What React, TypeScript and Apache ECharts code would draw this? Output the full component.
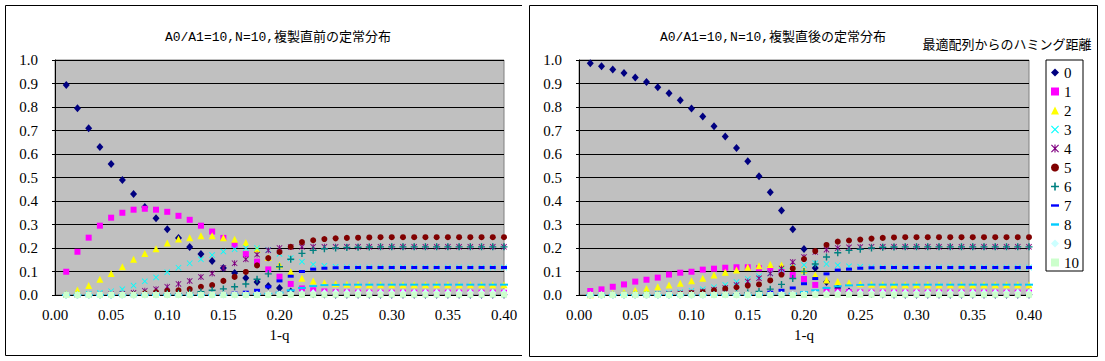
import React, { useEffect, useRef } from "react";
import * as echarts from "echarts";

// ---------- data ----------
const xValues = [
  0.01, 0.02, 0.03, 0.04, 0.05, 0.06, 0.07, 0.08, 0.09, 0.1,
  0.11, 0.12, 0.13, 0.14, 0.15, 0.16, 0.17, 0.18, 0.19, 0.2,
  0.21, 0.22, 0.23, 0.24, 0.25, 0.26, 0.27, 0.28, 0.29, 0.3,
  0.31, 0.32, 0.33, 0.34, 0.35, 0.36, 0.37, 0.38, 0.39, 0.4,
];

const seriesNames = ["0", "1", "2", "3", "4", "5", "6", "7", "8", "9", "10"];

const xTickFormat = (v: number) => v.toFixed(2);
const yTickFormat = (v: number) => v.toFixed(1);

const titleBefore = "A0/A1=10,N=10,複製直前の定常分布";
const titleAfter = "A0/A1=10,N=10,複製直後の定常分布";
const legendTitle = "最適配列からのハミング距離";
const xAxisName = "1-q";

// before replication (left chart)
const beforeD0 = [
  0.894, 0.795, 0.71, 0.63, 0.557, 0.489, 0.43, 0.375, 0.327, 0.28,
  0.243, 0.204, 0.174, 0.145, 0.115, 0.094, 0.072, 0.055, 0.038, 0.03,
  0.015, 0.006, 0.003, 0.002, 0.001, 0.001, 0.001, 0.001, 0.001, 0.001,
  0.001, 0.001, 0.001, 0.001, 0.001, 0.001, 0.001, 0.001, 0.001, 0.001,
];
const beforeD1 = [
  0.099, 0.184, 0.244, 0.295, 0.329, 0.35, 0.363, 0.367, 0.363, 0.354,
  0.337, 0.32, 0.295, 0.27, 0.243, 0.213, 0.174, 0.142, 0.109, 0.078,
  0.047, 0.028, 0.02, 0.015, 0.012, 0.011, 0.01, 0.0098, 0.0098, 0.0098,
  0.0098, 0.0098, 0.0098, 0.0098, 0.0098, 0.0098, 0.0098, 0.0098, 0.0098, 0.0098,
];
const beforeD2 = [
  0.005, 0.021, 0.04, 0.067, 0.091, 0.12, 0.152, 0.177, 0.197, 0.221,
  0.238, 0.244, 0.252, 0.252, 0.244, 0.237, 0.223, 0.196, 0.16, 0.128,
  0.099, 0.071, 0.06, 0.052, 0.048, 0.046, 0.045, 0.044, 0.044, 0.044,
  0.044, 0.044, 0.044, 0.044, 0.044, 0.044, 0.044, 0.044, 0.044, 0.044,
];
const beforeD3 = [
  0, 0.002, 0.005, 0.01, 0.016, 0.025, 0.04, 0.058, 0.075, 0.097,
  0.116, 0.135, 0.152, 0.17, 0.185, 0.195, 0.2, 0.2, 0.192, 0.175,
  0.157, 0.142, 0.13, 0.124, 0.12, 0.118, 0.117, 0.117, 0.117, 0.117,
  0.117, 0.117, 0.117, 0.117, 0.117, 0.117, 0.117, 0.117, 0.117, 0.117,
];
const beforeD4 = [
  0, 0, 0.001, 0.002, 0.003, 0.005, 0.01, 0.018, 0.025, 0.035,
  0.047, 0.06, 0.077, 0.092, 0.115, 0.135, 0.152, 0.172, 0.19, 0.2,
  0.204, 0.205, 0.205, 0.205, 0.205, 0.205, 0.205, 0.205, 0.205, 0.205,
  0.205, 0.205, 0.205, 0.205, 0.205, 0.205, 0.205, 0.205, 0.205, 0.205,
];
const beforeD5 = [
  0, 0, 0, 0, 0.001, 0.002, 0.004, 0.007, 0.012, 0.018,
  0.02, 0.025, 0.035, 0.042, 0.06, 0.077, 0.098, 0.126, 0.157, 0.183,
  0.205, 0.225, 0.233, 0.238, 0.241, 0.243, 0.244, 0.245, 0.246, 0.246,
  0.246, 0.246, 0.246, 0.246, 0.246, 0.246, 0.246, 0.246, 0.246, 0.246,
];
const beforeD6 = [
  0, 0, 0, 0, 0, 0.001, 0.001, 0.002, 0.003, 0.005,
  0.007, 0.01, 0.014, 0.02, 0.026, 0.035, 0.047, 0.067, 0.09, 0.12,
  0.152, 0.177, 0.19, 0.197, 0.2, 0.202, 0.203, 0.204, 0.205, 0.205,
  0.205, 0.205, 0.205, 0.205, 0.205, 0.205, 0.205, 0.205, 0.205, 0.205,
];
const beforeD7 = [
  0, 0, 0, 0, 0, 0, 0, 0, 0, 0,
  0.001, 0.001, 0.002, 0.003, 0.005, 0.008, 0.012, 0.02, 0.035, 0.06,
  0.08, 0.1, 0.11, 0.114, 0.116, 0.117, 0.117, 0.117, 0.117, 0.117,
  0.117, 0.117, 0.117, 0.117, 0.117, 0.117, 0.117, 0.117, 0.117, 0.117,
];
const beforeD8 = [
  0, 0, 0, 0, 0, 0, 0, 0, 0, 0,
  0, 0, 0, 0, 0, 0.001, 0.002, 0.003, 0.005, 0.01,
  0.02, 0.03, 0.038, 0.042, 0.043, 0.044, 0.044, 0.044, 0.044, 0.044,
  0.044, 0.044, 0.044, 0.044, 0.044, 0.044, 0.044, 0.044, 0.044, 0.044,
];
const beforeD9 = [
  0, 0, 0, 0, 0, 0, 0, 0, 0, 0,
  0, 0, 0, 0, 0, 0, 0, 0.001, 0.001, 0.002,
  0.004, 0.006, 0.008, 0.009, 0.0098, 0.0098, 0.0098, 0.0098, 0.0098, 0.0098,
  0.0098, 0.0098, 0.0098, 0.0098, 0.0098, 0.0098, 0.0098, 0.0098, 0.0098, 0.0098,
];
const beforeD10 = [
  0, 0, 0, 0, 0, 0, 0, 0, 0, 0,
  0, 0, 0, 0, 0, 0, 0, 0, 0, 0,
  0.001, 0.001, 0.001, 0.001, 0.001, 0.001, 0.001, 0.001, 0.001, 0.001,
  0.001, 0.001, 0.001, 0.001, 0.001, 0.001, 0.001, 0.001, 0.001, 0.001,
];

// after replication (right chart)
const afterD0 = [
  0.986, 0.973, 0.96, 0.945, 0.926, 0.906, 0.884, 0.858, 0.829, 0.794,
  0.76, 0.718, 0.674, 0.626, 0.569, 0.505, 0.437, 0.36, 0.28, 0.196,
  0.115, 0.055, 0.03, 0.015, 0.008, 0.004, 0.002, 0.001, 0.001, 0.001,
  0.001, 0.001, 0.001, 0.001, 0.001, 0.001, 0.001, 0.001, 0.001, 0.001,
];
const afterD1 = [
  0.017, 0.024, 0.035, 0.045, 0.057, 0.065, 0.074, 0.087, 0.095, 0.099,
  0.108, 0.112, 0.116, 0.118, 0.118, 0.114, 0.11, 0.1, 0.085, 0.068,
  0.043, 0.022, 0.015, 0.012, 0.011, 0.01, 0.0098, 0.0098, 0.0098, 0.0098,
  0.0098, 0.0098, 0.0098, 0.0098, 0.0098, 0.0098, 0.0098, 0.0098, 0.0098, 0.0098,
];
const afterD2 = [
  0.001, 0.003, 0.007, 0.012, 0.02, 0.028, 0.035, 0.043, 0.05, 0.061,
  0.071, 0.085, 0.097, 0.106, 0.118, 0.125, 0.13, 0.128, 0.12, 0.106,
  0.085, 0.064, 0.057, 0.052, 0.048, 0.046, 0.045, 0.044, 0.044, 0.044,
  0.044, 0.044, 0.044, 0.044, 0.044, 0.044, 0.044, 0.044, 0.044, 0.044,
];
const afterD3 = [
  0, 0, 0.001, 0.001, 0.002, 0.003, 0.005, 0.008, 0.012, 0.018,
  0.025, 0.033, 0.043, 0.055, 0.068, 0.08, 0.093, 0.106, 0.118, 0.128,
  0.135, 0.132, 0.127, 0.122, 0.12, 0.118, 0.117, 0.117, 0.117, 0.117,
  0.117, 0.117, 0.117, 0.117, 0.117, 0.117, 0.117, 0.117, 0.117, 0.117,
];
const afterD4 = [
  0, 0, 0, 0, 0.001, 0.001, 0.002, 0.004, 0.006, 0.01,
  0.015, 0.022, 0.03, 0.043, 0.057, 0.071, 0.092, 0.113, 0.14, 0.162,
  0.183, 0.193, 0.2, 0.203, 0.204, 0.205, 0.205, 0.205, 0.205, 0.205,
  0.205, 0.205, 0.205, 0.205, 0.205, 0.205, 0.205, 0.205, 0.205, 0.205,
];
const afterD5 = [
  0, 0, 0, 0, 0, 0.001, 0.002, 0.003, 0.005, 0.008,
  0.012, 0.02, 0.027, 0.033, 0.04, 0.045, 0.062, 0.087, 0.113, 0.153,
  0.187, 0.213, 0.227, 0.232, 0.236, 0.24, 0.243, 0.245, 0.246, 0.246,
  0.246, 0.246, 0.246, 0.246, 0.246, 0.246, 0.246, 0.246, 0.246, 0.246,
];
const afterD6 = [
  0, 0, 0, 0, 0, 0, 0, 0, 0, 0.001,
  0.001, 0.002, 0.003, 0.006, 0.01, 0.015, 0.025, 0.045, 0.07, 0.1,
  0.132, 0.162, 0.18, 0.19, 0.195, 0.2, 0.203, 0.204, 0.205, 0.205,
  0.205, 0.205, 0.205, 0.205, 0.205, 0.205, 0.205, 0.205, 0.205, 0.205,
];
const afterD7 = [
  0, 0, 0, 0, 0, 0, 0, 0, 0, 0,
  0, 0, 0.001, 0.002, 0.003, 0.006, 0.012, 0.02, 0.03, 0.048,
  0.07, 0.09, 0.106, 0.11, 0.114, 0.116, 0.117, 0.117, 0.117, 0.117,
  0.117, 0.117, 0.117, 0.117, 0.117, 0.117, 0.117, 0.117, 0.117, 0.117,
];
const afterD8 = [
  0, 0, 0, 0, 0, 0, 0, 0, 0, 0,
  0, 0, 0, 0, 0, 0.001, 0.002, 0.003, 0.006, 0.012,
  0.02, 0.03, 0.037, 0.041, 0.043, 0.044, 0.044, 0.044, 0.044, 0.044,
  0.044, 0.044, 0.044, 0.044, 0.044, 0.044, 0.044, 0.044, 0.044, 0.044,
];
const afterD9 = [
  0, 0, 0, 0, 0, 0, 0, 0, 0, 0,
  0, 0, 0, 0, 0, 0, 0, 0.001, 0.001, 0.002,
  0.004, 0.006, 0.008, 0.009, 0.0098, 0.0098, 0.0098, 0.0098, 0.0098, 0.0098,
  0.0098, 0.0098, 0.0098, 0.0098, 0.0098, 0.0098, 0.0098, 0.0098, 0.0098, 0.0098,
];
const afterD10 = [
  0, 0, 0, 0, 0, 0, 0, 0, 0, 0,
  0, 0, 0, 0, 0, 0, 0, 0, 0, 0,
  0.001, 0.001, 0.001, 0.001, 0.001, 0.001, 0.001, 0.001, 0.001, 0.001,
  0.001, 0.001, 0.001, 0.001, 0.001, 0.001, 0.001, 0.001, 0.001, 0.001,
];

const beforeData = [
  beforeD0, beforeD1, beforeD2, beforeD3, beforeD4, beforeD5,
  beforeD6, beforeD7, beforeD8, beforeD9, beforeD10,
];
const afterData = [
  afterD0, afterD1, afterD2, afterD3, afterD4, afterD5,
  afterD6, afterD7, afterD8, afterD9, afterD10,
];

// ---------- styles ----------
const SERIF = "'Liberation Serif', 'Noto Sans CJK JP', serif";
const TITLE_FONT = "'Liberation Mono', 'Noto Sans CJK JP', monospace";

const colors = [
  "#000080", "#FF00FF", "#FFFF00", "#00FFFF", "#800080", "#800000",
  "#008080", "#0000FF", "#00CCFF", "#CCFFFF", "#CCFFCC",
];

const SYM_X = "path://M0,1L1,0L5,4L9,0L10,1L6,5L10,9L9,10L5,6L1,10L0,9L4,5Z";
const SYM_STAR =
  "path://M0,1L1,0L5,4L9,0L10,1L6,5L10,9L9,10L5,6L1,10L0,9L4,5ZM4.3,0H5.7V10H4.3Z";
const SYM_PLUS = "path://M4,0H6V4H10V6H6V10H4V6H0V4H4Z";
const SYM_DASH = "path://M0,0H10V3H0Z";

const symbols = [
  "diamond", "rect", "triangle", SYM_X, SYM_STAR, "circle",
  SYM_PLUS, SYM_DASH, SYM_DASH, "diamond", "rect",
];
const symbolSizes: any[] = [
  [7, 8], 6, 7, 6, 6, 6, 7, [6, 3], [8, 2], [7, 8], 6,
];

function buildSeries(data: number[][], g: number) {
  return data.map((arr, i) => ({
    type: "scatter",
    name: seriesNames[i],
    xAxisIndex: g,
    yAxisIndex: g,
    data: xValues.map((x, k) => [x, arr[k]]),
    symbol: symbols[i],
    symbolSize: symbolSizes[i],
    itemStyle: { color: colors[i], opacity: 1 },
    emphasis: { disabled: true },
    clip: false,
  }));
}

const grids = [
  { left: 55, top: 60, width: 449, height: 235 },
  { left: 579, top: 60, width: 450, height: 235 },
];

function makeXAxis(g: number) {
  return {
    type: "value",
    gridIndex: g,
    min: 0,
    max: 0.4,
    interval: 0.05,
    axisLine: { show: true, onZero: false, lineStyle: { color: "#000", width: 1 } },
    axisTick: { show: false },
    splitLine: { show: false },
    axisLabel: {
      formatter: xTickFormat,
      fontSize: 15,
      fontFamily: SERIF,
      color: "#000",
      margin: 12,
    },
    name: xAxisName,
    nameLocation: "middle",
    nameGap: 32,
    nameTextStyle: { fontSize: 15, fontFamily: SERIF, color: "#000" },
  };
}

function makeYAxis(g: number) {
  return {
    type: "value",
    gridIndex: g,
    min: 0,
    max: 1,
    interval: 0.1,
    axisLine: { show: true, lineStyle: { color: "#000", width: 1 } },
    axisTick: { show: true, length: 3, lineStyle: { color: "#000" } },
    splitLine: { show: true, lineStyle: { color: "#000", width: 1 } },
    axisLabel: {
      formatter: yTickFormat,
      fontSize: 15,
      fontFamily: SERIF,
      color: "#000",
      margin: 17,
    },
  };
}

const legendIcons = [
  "diamond", "rect", "triangle", SYM_X, SYM_STAR, "circle",
  SYM_PLUS, SYM_DASH, SYM_DASH, "diamond", "rect",
];

const option: any = {
  animation: false,
  backgroundColor: "#ffffff",
  grid: grids.map((g) => ({
    ...g,
    show: true,
    backgroundColor: "#C0C0C0",
    borderColor: "#808080",
    borderWidth: 1,
  })),
  xAxis: [makeXAxis(0), makeXAxis(1)],
  yAxis: [makeYAxis(0), makeYAxis(1)],
  legend: {
    orient: "vertical",
    left: 1046,
    top: 60,
    padding: [5, 4, 1, 5],
    itemWidth: 8,
    itemHeight: 8,
    itemGap: 4,
    borderColor: "#000",
    borderWidth: 1,
    backgroundColor: "#fff",
    selectedMode: false,
    textStyle: { fontSize: 15, lineHeight: 15, fontFamily: SERIF, color: "#000" },
    data: seriesNames.map((n, i) => ({ name: n, icon: legendIcons[i] })),
  },
  graphic: [
    {
      type: "polyline",
      shape: { points: [[522, 5.5], [5.5, 5.5], [5.5, 355.5], [522, 355.5]] },
      style: { stroke: "#000", fill: null, lineWidth: 1 },
      silent: true,
    },
    {
      type: "rect",
      shape: { x: 529.5, y: 5.5, width: 568, height: 351 },
      style: { stroke: "#000", fill: null, lineWidth: 1 },
      silent: true,
    },
    {
      type: "text",
      x: 278,
      y: 37,
      style: {
        text: titleBefore,
        font: `13px ${TITLE_FONT}`,
        fill: "#000",
        textAlign: "center",
        textVerticalAlign: "middle",
      },
    },
    {
      type: "text",
      x: 773,
      y: 37,
      style: {
        text: titleAfter,
        font: `13px ${TITLE_FONT}`,
        fill: "#000",
        textAlign: "center",
        textVerticalAlign: "middle",
      },
    },
    {
      type: "text",
      x: 1007,
      y: 44,
      style: {
        text: legendTitle,
        font: `13px ${SERIF}`,
        fill: "#000",
        textAlign: "center",
        textVerticalAlign: "middle",
      },
    },
  ],
  series: [...buildSeries(beforeData, 0), ...buildSeries(afterData, 1)],
};

export default function App() {
  const ref = useRef<HTMLDivElement>(null);
  useEffect(() => {
    if (!ref.current) return;
    const chart = echarts.init(ref.current, null, { renderer: "svg" });
    chart.setOption(option);
    return () => chart.dispose();
  }, []);
  return (
    <div
      ref={ref}
      style={{
        position: "absolute",
        left: 0,
        top: 0,
        width: 1105,
        height: 361,
        background: "#fff",
      }}
    />
  );
}
